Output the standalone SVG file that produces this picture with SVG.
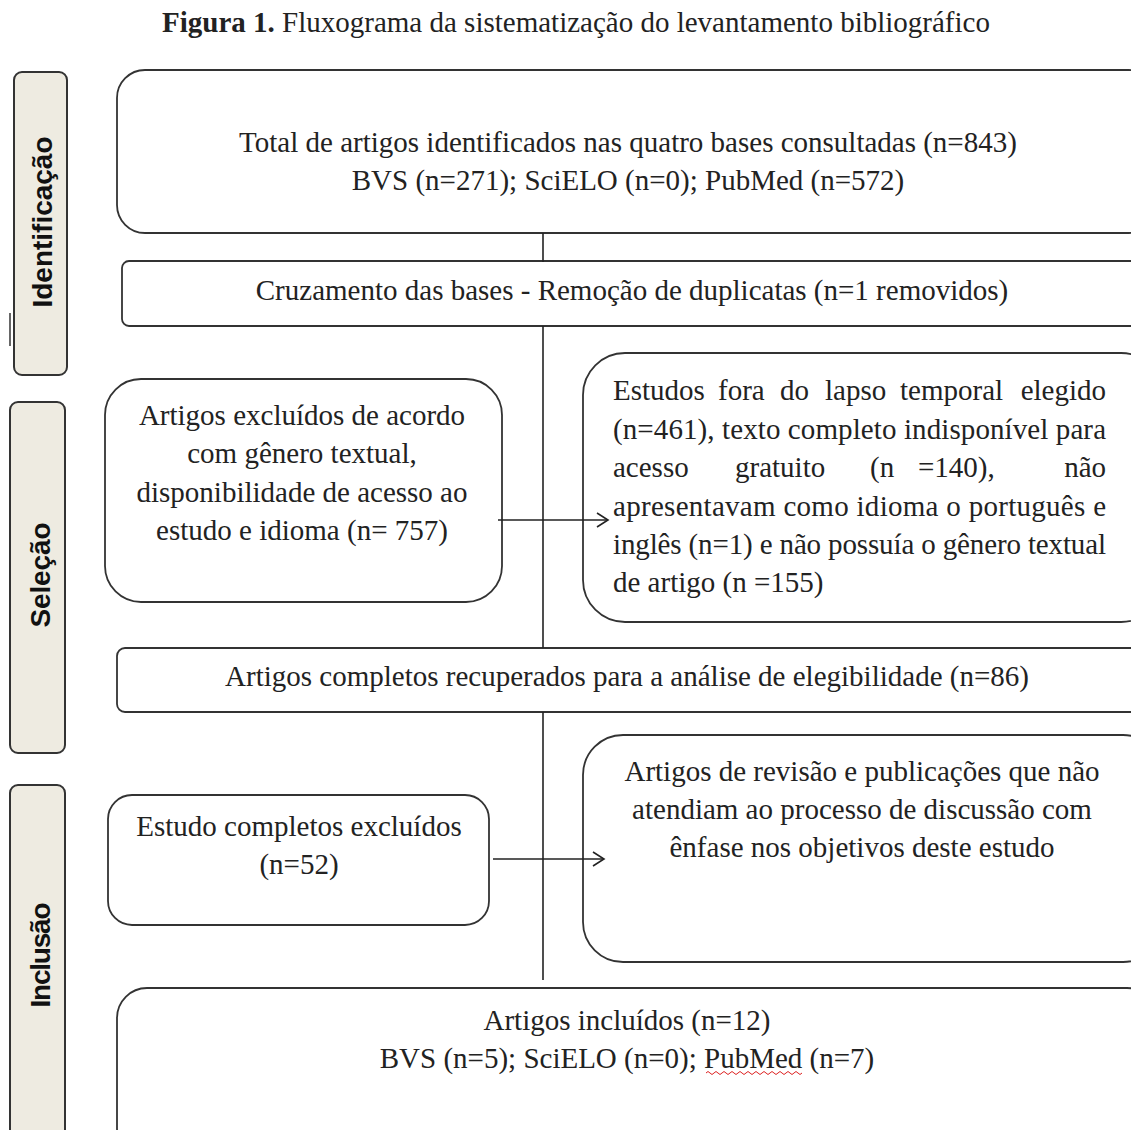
<svg xmlns="http://www.w3.org/2000/svg" width="1131" height="1130" viewBox="0 0 1131 1130">
<style>
.box{fill:#fff;stroke:#333;stroke-width:1.8}
.side{fill:#eeebe1;stroke:#333;stroke-width:2}
.t{font-family:"Liberation Serif","Times New Roman",serif;font-size:29px;fill:#222}
.c{text-anchor:middle}
.e{text-anchor:end}
.s{font-family:"Liberation Sans",Arial,sans-serif;font-weight:bold;font-size:28px;fill:#111;text-anchor:middle}
.ln{stroke:#222;stroke-width:1.6;fill:none}
</style>
<defs>
<marker id="ar" markerWidth="14" markerHeight="16" refX="12" refY="8" orient="auto" markerUnits="userSpaceOnUse">
<path d="M1,1 L12,8 L1,15" fill="none" stroke="#222" stroke-width="1.6"/>
</marker>
</defs>
<rect width="1131" height="1130" fill="#fff"/>
<text class="t c" x="576" y="32"><tspan font-weight="bold">Figura 1.</tspan> Fluxograma da sistematização do levantamento bibliográfico</text>

<g id="side-identificacao">
<rect class="side" x="14" y="72" width="53" height="303" rx="8"/>
<text class="s" transform="translate(52,222) rotate(-90)" textLength="171" lengthAdjust="spacing">Identificação</text>
</g>
<line x1="10" y1="313" x2="10" y2="346" stroke="#333" stroke-width="1.5"/>
<g id="side-selecao">
<rect class="side" x="10" y="402" width="55" height="351" rx="8"/>
<text class="s" transform="translate(50,575) rotate(-90)" textLength="105" lengthAdjust="spacing">Seleção</text>
</g>
<g id="side-inclusao">
<rect class="side" x="10" y="785" width="55" height="360" rx="8"/>
<text class="s" transform="translate(50,955) rotate(-90)" textLength="105" lengthAdjust="spacing">Inclusão</text>
</g>

<g id="n1">
<rect class="box" x="117" y="70" width="1040" height="163" rx="28"/>
<text class="t c" x="628" y="152">Total de artigos identificados nas quatro bases consultadas (n=843)</text>
<text class="t c" x="628" y="190">BVS (n=271); SciELO (n=0); PubMed (n=572)</text>
</g>

<g id="n2">
<rect class="box" x="122" y="261" width="1030" height="65" rx="7"/>
<text class="t c" x="632" y="300">Cruzamento das bases - Remoção de duplicatas (n=1 removidos)</text>
</g>

<g id="n3">
<rect class="box" x="105" y="379" width="397" height="223" rx="36"/>
<text class="t c" x="302" y="425">Artigos excluídos de acordo</text>
<text class="t c" x="302" y="463">com gênero textual,</text>
<text class="t c" x="302" y="502">disponibilidade de acesso ao</text>
<text class="t c" x="302" y="540">estudo e idioma (n= 757)</text>
</g>

<g id="n4">
<rect class="box" x="583" y="353" width="580" height="269" rx="42"/>
<text class="t" y="400"><tspan x="613">Estudos</tspan><tspan x="718">fora</tspan><tspan x="780">do</tspan><tspan x="825">lapso</tspan><tspan x="900">temporal</tspan></text>
<text class="t e" x="1106" y="400">elegido</text>
<text class="t" x="613" y="439" textLength="493" lengthAdjust="spacing">(n=461), texto completo indisponível para</text>
<text class="t" y="477"><tspan x="613">acesso</tspan><tspan x="735">gratuito</tspan><tspan x="870">(n</tspan><tspan x="918">=140),</tspan></text>
<text class="t e" x="1106" y="477">não</text>
<text class="t" x="613" y="516" textLength="493" lengthAdjust="spacing">apresentavam como idioma o português e</text>
<text class="t" x="613" y="554" textLength="493" lengthAdjust="spacing">inglês (n=1) e não possuía o gênero textual</text>
<text class="t" x="613" y="592">de artigo (n =155)</text>
</g>

<g id="n5">
<rect class="box" x="117" y="648" width="1040" height="64" rx="8"/>
<text class="t c" x="627" y="686">Artigos completos recuperados para a análise de elegibilidade (n=86)</text>
</g>

<g id="n6">
<rect class="box" x="108" y="795" width="381" height="130" rx="24"/>
<text class="t c" x="299" y="836">Estudo completos excluídos</text>
<text class="t c" x="299" y="874">(n=52)</text>
</g>

<g id="n7">
<rect class="box" x="583" y="735" width="580" height="227" rx="40"/>
<text class="t c" x="862" y="781">Artigos de revisão e publicações que não</text>
<text class="t c" x="862" y="819">atendiam ao processo de discussão com</text>
<text class="t c" x="862" y="857">ênfase nos objetivos deste estudo</text>
</g>

<g id="n8">
<rect class="box" x="117" y="988" width="1040" height="170" rx="30"/>
<text class="t c" x="627" y="1030">Artigos incluídos (n=12)</text>
<text class="t c" x="627" y="1068">BVS (n=5); SciELO (n=0); PubMed (n=7)</text>
<path d="M706,1073 q2,-3 4,0 t4,0 t4,0 t4,0 t4,0 t4,0 t4,0 t4,0 t4,0 t4,0 t4,0 t4,0 t4,0 t4,0 t4,0 t4,0 t4,0 t4,0 t4,0 t4,0 t4,0 t4,0 t4,0 t4,0" fill="none" stroke="#d22" stroke-width="1"/>
</g>

<g id="connectors">
<line class="ln" x1="543" y1="233" x2="543" y2="262"/>
<line class="ln" x1="543" y1="326" x2="543" y2="648"/>
<line class="ln" x1="543" y1="712" x2="543" y2="980"/>
<line class="ln" x1="498" y1="520" x2="608" y2="520" marker-end="url(#ar)"/>
<line class="ln" x1="493" y1="859" x2="604" y2="859" marker-end="url(#ar)"/>
</g>
</svg>
